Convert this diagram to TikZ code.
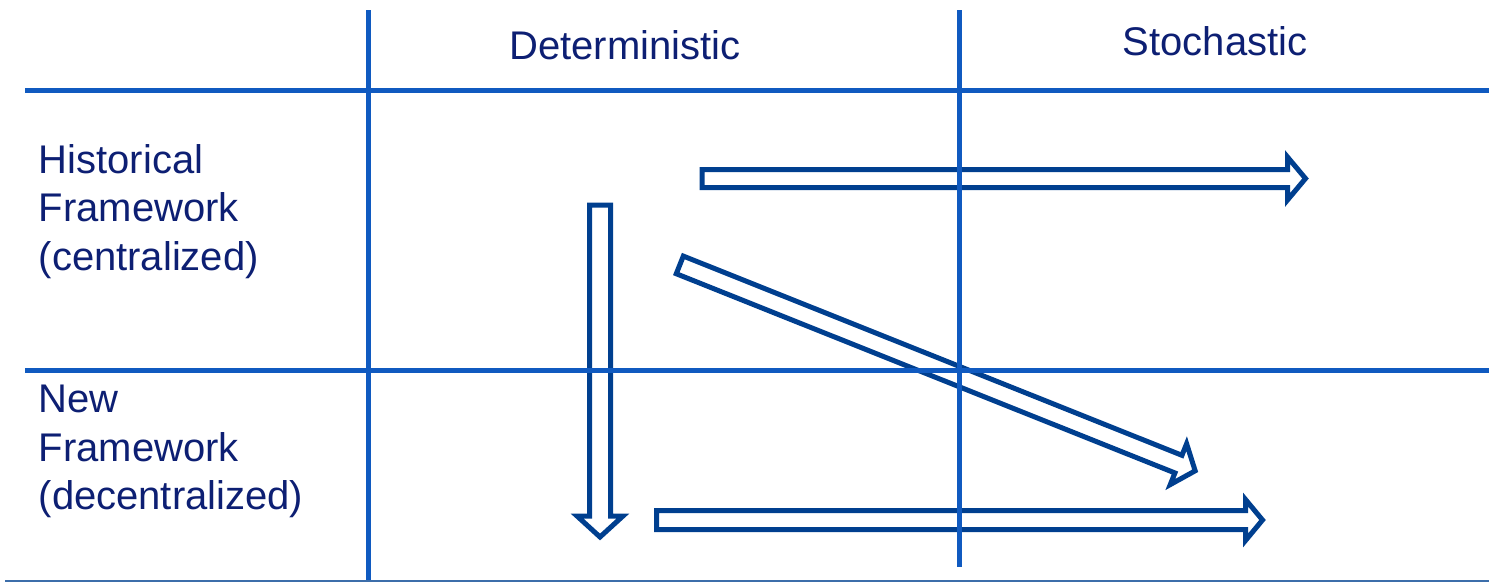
\documentclass[tikz,border=0pt]{standalone}
\usepackage{fontspec}
\setmainfont{Liberation Sans}
\usepackage{xcolor}
\usetikzlibrary{positioning}

\definecolor{grigliablu}{RGB}{16,90,192}
\definecolor{frecciablu}{RGB}{0,63,143}
\definecolor{testoblu}{RGB}{13,31,115}
\definecolor{bordoblu}{RGB}{60,110,170}

\begin{document}
\begin{tikzpicture}[x=1pt, y=-1pt]
    % Stili
    \tikzstyle{linea} = [draw=grigliablu, line width=5pt]
    \tikzstyle{freccia} = [draw=frecciablu, line width=5pt]
    \tikzstyle{etichetta} = [text=testoblu, inner sep=0pt, font=\fontsize{40}{48.5}\selectfont]

    \useasboundingbox (0,0) rectangle (1489,582);

    % Punti della griglia
    \coordinate (h1s) at (25,90.5);   \coordinate (h1d) at (1489,90.5);
    \coordinate (h2s) at (25,370.5);  \coordinate (h2d) at (1489,370.5);
    \coordinate (v1a) at (368.5,10);  \coordinate (v1b) at (368.5,582);
    \coordinate (v2a) at (959,10);    \coordinate (v2b) at (959,567);
    \coordinate (bs) at (5,581);      \coordinate (bd) at (1489,581);

    % Frecce
    \draw [freccia] (702,169.5) -- (1287.5,169.5) -- (1287.5,157) -- (1305.5,178.5)
        -- (1287.5,200) -- (1287.5,187.5) -- (702,187.5) -- cycle;
    \draw [freccia] (589.5,205) -- (610.5,205) -- (610.5,516) -- (623,516)
        -- (600,537) -- (577,516) -- (589.5,516) -- cycle;
    \draw [freccia] (656.5,510.5) -- (1245.5,510.5) -- (1245.5,499.5) -- (1262.5,520)
        -- (1245.5,540.5) -- (1245.5,529.5) -- (656.5,529.5) -- cycle;
    \begin{scope}[shift={(679.8,264.9)}, rotate=-21.78]
        \draw [freccia] (0,-9.5) -- (537,-9.5) -- (537,-22) -- (555,0)
            -- (537,22) -- (537,9.5) -- (0,9.5) -- cycle;
    \end{scope}

    % Griglia
    \draw [linea] (h1s) -- (h1d);
    \draw [linea] (h2s) -- (h2d);
    \draw [linea] (v1a) -- (v1b);
    \draw [linea] (v2a) -- (v2b);
    \draw [bordoblu, line width=1.5pt] (bs) -- (bd);

    % Etichette
    \node [etichetta, anchor=base] (det) at (625,59) {Deterministic};
    \node [etichetta, anchor=base] (sto) at (1215,55) {Stochastic};
    \node [etichetta, anchor=north west, align=left] (stor) at (38.5,144)
        {Historical\\Framework\\(centralized)};
    \node [etichetta, anchor=north west, align=left] (nuovo) at (38.5,385)
        {New\\Framework\\(decentralized)};
\end{tikzpicture}
\end{document}
